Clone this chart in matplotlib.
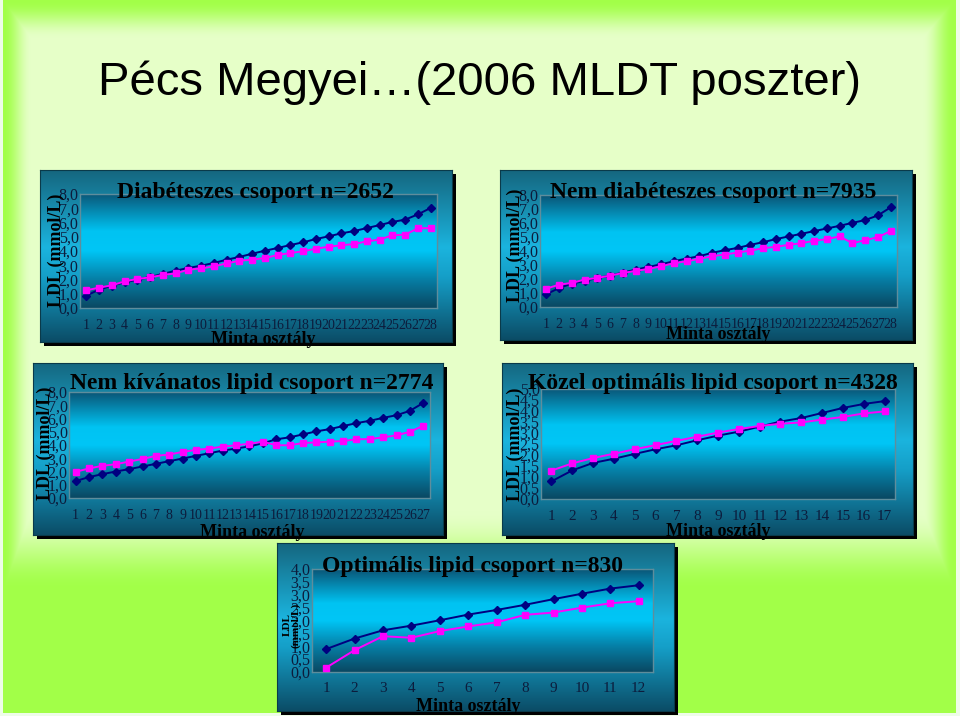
import numpy as np
import matplotlib
matplotlib.use("Agg")
import matplotlib.pyplot as plt
from matplotlib.colors import LinearSegmentedColormap, to_rgb
from matplotlib.ticker import FuncFormatter

# ---------------- data ----------------
main_title = "Pécs Megyei…(2006 MLDT poszter)"
xlabel = "Minta osztály"
ylabel = "LDL (mmol/L)"

titles = [
    "Diabéteszes csoport n=2652",
    "Nem diabéteszes csoport n=7935",
    "Nem kívánatos lipid csoport n=2774",
    "Közel optimális lipid csoport n=4328",
    "Optimális lipid csoport n=830",
]

diab_blue = [0.87, 1.29, 1.57, 1.80, 1.99, 2.18, 2.39, 2.62, 2.81, 2.97, 3.16, 3.39, 3.58, 3.81,
             4.02, 4.21, 4.42, 4.61, 4.84, 5.03, 5.24, 5.40, 5.61, 5.82, 6.04, 6.20, 6.57, 7.02]
diab_pink = [1.24, 1.43, 1.59, 1.87, 2.04, 2.15, 2.32, 2.43, 2.69, 2.78, 2.92, 3.13, 3.32, 3.39,
             3.51, 3.72, 3.86, 3.98, 4.16, 4.30, 4.40, 4.49, 4.68, 4.80, 5.10, 5.15, 5.59, 5.61]

nondiab_blue = [0.91, 1.36, 1.67, 1.86, 2.08, 2.24, 2.46, 2.67, 2.86, 3.05, 3.27, 3.46, 3.63, 3.87,
                4.06, 4.22, 4.44, 4.63, 4.85, 5.04, 5.23, 5.42, 5.61, 5.80, 6.01, 6.21, 6.54, 7.12]
nondiab_pink = [1.31, 1.60, 1.72, 1.96, 2.08, 2.24, 2.43, 2.58, 2.72, 2.91, 3.13, 3.27, 3.44, 3.63,
                3.75, 3.89, 4.03, 4.20, 4.30, 4.44, 4.56, 4.73, 4.85, 5.04, 4.56, 4.77, 4.99, 5.42]

undes_blue = [1.28, 1.58, 1.80, 2.00, 2.18, 2.38, 2.58, 2.78, 2.98, 3.18, 3.38, 3.58, 3.73, 3.90,
              4.13, 4.43, 4.58, 4.80, 5.03, 5.20, 5.43, 5.65, 5.83, 6.05, 6.25, 6.58, 7.18]
undes_pink = [1.98, 2.23, 2.43, 2.55, 2.75, 2.95, 3.18, 3.28, 3.48, 3.63, 3.73, 3.88, 3.98, 4.10,
              4.25, 3.98, 3.98, 4.15, 4.20, 4.25, 4.30, 4.43, 4.45, 4.58, 4.73, 5.00, 5.45]

near_blue = [0.80, 1.30, 1.64, 1.83, 2.05, 2.26, 2.44, 2.67, 2.88, 3.06, 3.29, 3.52, 3.68, 3.91,
             4.14, 4.32, 4.45]
near_pink = [1.29, 1.62, 1.86, 2.06, 2.26, 2.45, 2.64, 2.83, 3.02, 3.18, 3.32, 3.42, 3.48, 3.61,
             3.73, 3.89, 3.98]

opt_blue = [0.89, 1.30, 1.62, 1.80, 2.01, 2.23, 2.41, 2.61, 2.83, 3.04, 3.24, 3.37]
opt_pink = [0.17, 0.85, 1.39, 1.33, 1.59, 1.77, 1.93, 2.22, 2.31, 2.50, 2.67, 2.75]

y_max = [8.0, 8.0, 8.0, 5.0, 4.0]
y_step = [1.0, 1.0, 1.0, 0.5, 0.5]

# ---------------- figure ----------------
W, H = 960, 716
plt.rcParams["font.family"] = ["Liberation Serif", "DejaVu Serif"]
fig = plt.figure(figsize=(W / 100, H / 100), dpi=100)


def frac(x0, y0, x1, y1):
    return [x0 / W, 1 - y1 / H, (x1 - x0) / W, (y1 - y0) / H]


# slide background gradient
bg = fig.add_axes([0, 0, 1, 1])
bg.set_zorder(-5)
yy, xx = np.mgrid[0:H, 0:W].astype(float)
t = np.minimum.reduce([(xx - 3) / 28.0, (W - 6 - xx) / 32.0, yy / 38.0, (590 - yy) / 80.0])
t = np.clip(t, 0, 1)
t = t * t * (3 - 2 * t)
pale = np.array(to_rgb("#e6ffc8"))
bright = np.array(to_rgb("#a2ff48"))
img = bright[None, None, :] * (1 - t[..., None]) + pale[None, None, :] * t[..., None]
edge = np.array(to_rgb("#eefce8"))
img[:, W - 4:, :] = edge
img[:, :3, :] = edge
img[H - 3:, :, :] = edge
bg.imshow(img, extent=(0, 1, 0, 1), aspect="auto", interpolation="bilinear")
bg.set_axis_off()

fig.text(479 / W, 1 - 95 / H, main_title, ha="center", va="baseline",
         fontsize=34, family=["Liberation Sans", "DejaVu Sans"], color="black")

frame_cmap = LinearSegmentedColormap.from_list(
    "frame", [(0.0, "#15667f"), (0.45, "#1bb4de"), (0.62, "#159fc8"), (1.0, "#0b4c66")])
plot_cmap = LinearSegmentedColormap.from_list(
    "plot", [(0.0, "#0a5576"), (0.33, "#00c3f2"), (0.5, "#00c6f6"), (0.75, "#067fa6"), (1.0, "#0a4862")])
grad = np.linspace(0, 1, 256)[:, None]

comma = FuncFormatter(lambda v, p: f"{v:.1f}".replace(".", ","))

panels = [
    dict(box=(40, 170, 452, 342), plot=(80, 194, 437, 308), blue=diab_blue, pink=diab_pink,
         title_xy=(255, 198), ylab_xy=(56, 250), ylab_size=13, xlab_xy=(263, 344),
         xt_size=10, xpad=8),
    dict(box=(500, 170, 912, 340), plot=(540, 195, 897, 307), blue=nondiab_blue, pink=nondiab_pink,
         title_xy=(713, 198), ylab_xy=(515, 245), ylab_size=13, xlab_xy=(718, 339),
         xt_size=10, xpad=8),
    dict(box=(33, 363, 443, 535), plot=(69, 392, 430, 498), blue=undes_blue, pink=undes_pink,
         title_xy=(252, 389), ylab_xy=(45, 443), ylab_size=13, xlab_xy=(252, 537),
         xt_size=10, xpad=8),
    dict(box=(502, 363, 913, 535), plot=(541, 389, 895, 499), blue=near_blue, pink=near_pink,
         title_xy=(713, 389), ylab_xy=(515, 444), ylab_size=13, xlab_xy=(718, 536),
         xt_size=11, xpad=8),
    dict(box=(277, 543, 674, 711), plot=(312, 569, 653, 672), blue=opt_blue, pink=opt_pink,
         title_xy=(473, 572), ylab_xy=(292, 625), ylab_size=8, xlab_xy=(468, 711),
         xt_size=11, xpad=7),
]

for i, p in enumerate(panels):
    x0, y0, x1, y1 = p["box"]
    # shadow
    sh = fig.add_axes(frac(x0 + 4, y0 + 4, x1 + 4, y1 + 4))
    sh.set_facecolor("black")
    sh.set_xticks([]); sh.set_yticks([])
    for s in sh.spines.values():
        s.set_visible(False)
    # frame
    fr = fig.add_axes(frac(x0, y0, x1, y1))
    fr.imshow(grad, cmap=frame_cmap, extent=(0, 1, 0, 1), aspect="auto")
    fr.set_xlim(0, 1); fr.set_ylim(0, 1)
    fr.set_xticks([]); fr.set_yticks([])
    for s in fr.spines.values():
        s.set_color("#0a3a4a"); s.set_linewidth(0.8)
    # plot area
    ax = fig.add_axes(frac(*p["plot"]))
    ax.imshow(grad, cmap=plot_cmap, extent=(0, 1, 0, 1), aspect="auto",
              transform=ax.transAxes, zorder=0)
    n = len(p["blue"])
    cats = np.arange(1, n + 1)
    ax.plot(cats, p["blue"], color="#000080", lw=1.4, marker="D", ms=3.6, zorder=3)
    ax.plot(cats, p["pink"], color="#ff00ff", lw=1.4, marker="s", ms=3.8, zorder=3)
    ax.set_xlim(0.5, n + 0.5)
    ax.set_ylim(0, y_max[i])
    ax.set_yticks(np.arange(0, y_max[i] + 1e-9, y_step[i]))
    ax.yaxis.set_major_formatter(comma)
    ax.set_xticks(cats)
    ax.set_xticklabels([str(c) for c in cats])
    ax.tick_params(axis="y", length=0, pad=1, labelsize=11.5, labelcolor="#0c1c3c")
    ax.tick_params(axis="x", length=0, pad=p["xpad"], labelsize=p["xt_size"], labelcolor="#0c1c3c")
    for s in ax.spines.values():
        s.set_color("#5f8d9c"); s.set_linewidth(1.0)
    # texts
    tx, ty = p["title_xy"]
    fig.text(tx / W, 1 - ty / H, titles[i], ha="center", va="baseline",
             fontsize=17, fontweight="bold", color="black")
    lx, ly = p["ylab_xy"]
    lab = ylabel if i < 4 else "LDL\n(mmol/L)"
    fig.text(lx / W, 1 - ly / H, lab, ha="center", va="center", rotation=90,
             fontsize=p["ylab_size"], fontweight="bold", color="black", linespacing=0.9)
    mx, my = p["xlab_xy"]
    fig.text(mx / W, 1 - my / H, xlabel, ha="center", va="baseline",
             fontsize=13, fontweight="bold", color="black")

fig.savefig("out.png", dpi=100)
